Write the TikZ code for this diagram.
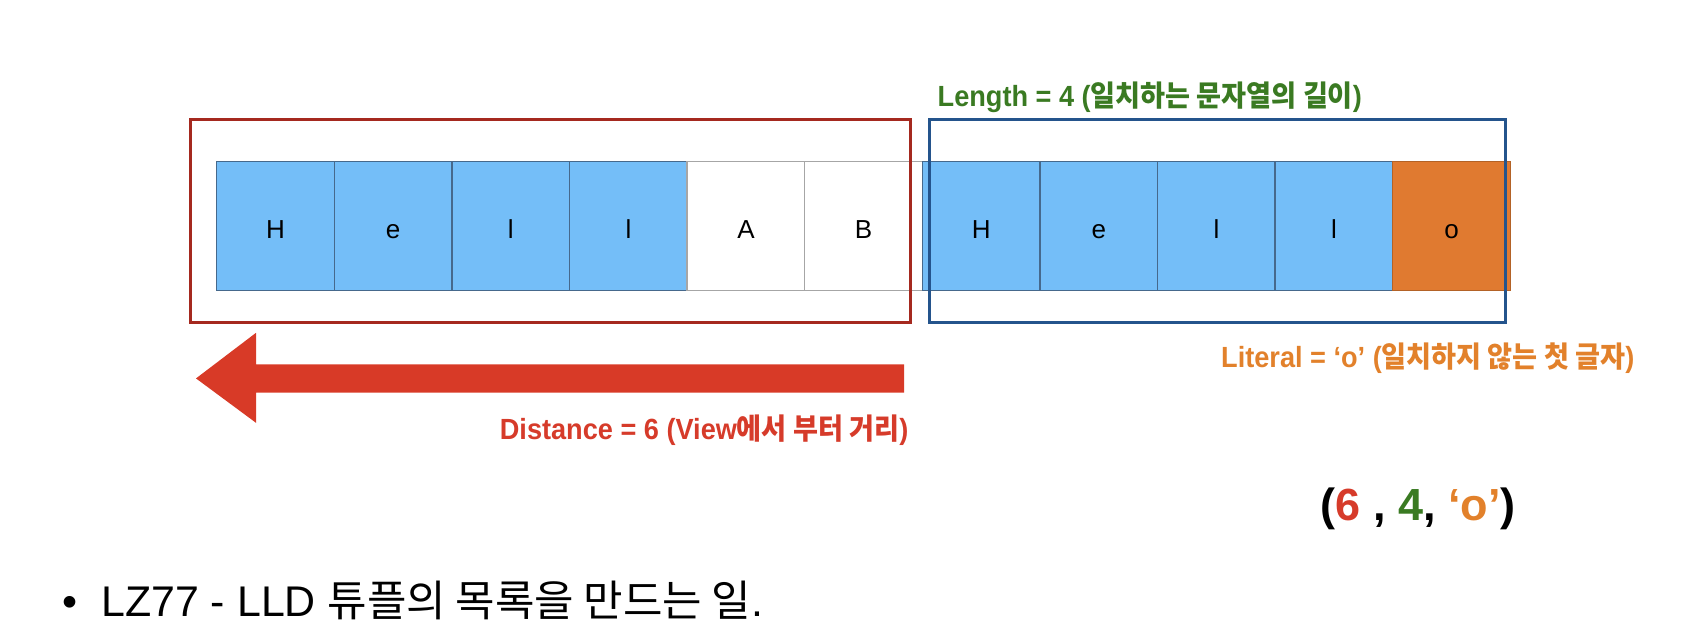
\documentclass[tikz,border=0pt]{standalone}
\usepackage{fontspec}
\usepackage{graphicx}
\setmainfont{Liberation Sans}
\newfontfamily\kr{Noto Sans CJK KR}
\definecolor{cellblue}{RGB}{116,190,248}
\definecolor{cellblueedge}{RGB}{70,105,140}
\definecolor{cellorange}{RGB}{224,122,48}
\definecolor{boxred}{RGB}{165,41,31}
\definecolor{boxblue}{RGB}{36,84,140}
\definecolor{arrowred}{RGB}{216,58,39}
\definecolor{txtgreen}{RGB}{58,122,34}
\definecolor{txtorange}{RGB}{226,129,43}
\definecolor{txtred}{RGB}{214,59,42}
\tikzset{
  cell/.style={draw, line width=0.4pt, minimum width=1.176cm, minimum height=1.29cm, inner sep=0pt, text height=7.2pt, text depth=0pt, font=\fontsize{7.4}{8}\selectfont},
  bluecell/.style={cell, fill=cellblue, draw=cellblueedge},
  whitecell/.style={cell, fill=white, draw=gray!70},
  orangecell/.style={cell, fill=cellorange, draw=cellorange!80!black},
  winbox/.style={draw, line width=0.85pt, minimum height=2.027cm, inner sep=0pt},
  lbl/.style={inner sep=0pt, font=\bfseries\fontsize{8.3}{9}\selectfont},
}
\begin{document}
\begin{tikzpicture}[x=0.01cm,y=-0.01cm]
\useasboundingbox (0,0) rectangle (1700,642);
% cells
\node[bluecell] (c1) at (275.6,226) {H};
\node[bluecell] (c2) at (393.2,226) {e};
\node[bluecell] (c3) at (510.8,226) {l};
\node[bluecell] (c4) at (628.4,226) {l};
\node[whitecell] (c5) at (746.0,226) {A};
\node[whitecell] (c6) at (863.6,226) {B};
\node[bluecell] (c7) at (981.2,226) {H};
\node[bluecell] (c8) at (1098.8,226) {e};
\node[bluecell] (c9) at (1216.4,226) {l};
\node[bluecell] (c10) at (1334.0,226) {l};
\node[orangecell] (c11) at (1451.6,226) {o};
% window boxes
\node[winbox, draw=boxred, minimum width=7.2cm] (search) at (550.75,220.65) {};
\node[winbox, draw=boxblue, minimum width=5.75cm] (look) at (1217.5,220.65) {};
% arrow
\coordinate (atip) at (196,378.4);
\fill[arrowred] (904,364.3) -- (256,364.3) -- (256,332.8) -- (atip) -- (256,422.8) -- (256,392.5) -- (904,392.5) -- cycle;
% labels
\node[lbl, text=txtgreen, anchor=west] (lenlbl) at (937,97.6) {\scalebox{0.93}[1]{Length = 4 ({\kr 일치하는 문자열의 길이})}};
\node[lbl, text=txtorange, anchor=east] (litlbl) at (1635,358) {\scalebox{0.93}[1]{Literal = ‘o’ ({\kr 일치하지 않는 첫 글자})}};
\node[lbl, text=txtred, anchor=east] (distlbl) at (909,430) {\scalebox{0.93}[1]{Distance = 6 (View{\kr 에서 부터 거리})}};
\node[inner sep=0pt, font=\bfseries\fontsize{12.8}{14}\selectfont] (tuple) at (1418,509) {(\textcolor{txtred}{6} , \textcolor{txtgreen}{4}, \textcolor{txtorange}{‘o’})};
\node[inner sep=0pt, anchor=west, font=\fontsize{12.2}{14}\selectfont] (bullet) at (62,600) {•\hspace{0.55em}LZ77 - LLD {\kr 튜플의 목록을 만드는 일}.};
\end{tikzpicture}
\end{document}
